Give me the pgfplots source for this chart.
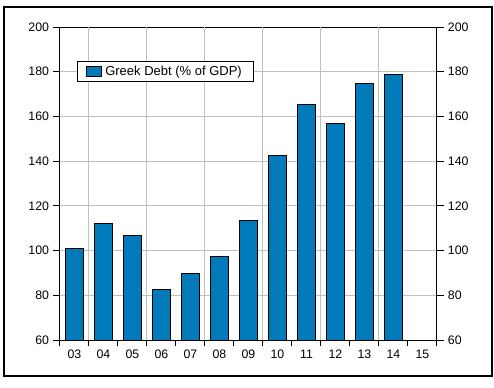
\documentclass[border=0pt]{standalone}
\usepackage{fontspec}
\setmainfont{Liberation Sans}
\usepackage{pgfplots}
\pgfplotsset{compat=1.18}
\definecolor{barblue}{RGB}{0,122,184}
\definecolor{gridgray}{RGB}{192,192,192}
\begin{document}
\begin{tikzpicture}
\path (0pt,0pt) rectangle (370.5pt,290.25pt);
\draw[line width=1.2pt] (3pt,8.25pt) rectangle (369pt,285pt);
\begin{axis}[
  at={(45pt,35.25pt)}, anchor=south west, scale only axis,
  width=282.75pt, height=234.75pt,
  xmin=-0.5, xmax=12.5, ymin=60, ymax=200,
  ytick={60,80,...,200},
  xtick={0,...,12},
  xticklabels={03,04,05,06,07,08,09,10,11,12,13,14,15},
  major x tick style={draw=none},
  minor xtick={-0.5,0.5,...,12.5},
  minor tick length=4.5pt,
  major tick length=5pt,
  xtick pos=left,
  ytick pos=both,
  yticklabel pos=left,
  tick align=outside,
  tick style={black, line width=0.75pt},
  axis line style={black, line width=0.75pt},
  ymajorgrids=true,
  grid style={gridgray, line width=0.75pt},
  extra x ticks={0.5,2.5,...,10.5},
  extra x tick labels={},
  extra x tick style={xmajorgrids=true, major tick length=0pt},
  ticklabel style={font=\fontsize{9.25}{11}\selectfont},
  yticklabel style={inner xsep=3pt},
  xticklabel style={inner ysep=2.5pt},
  /pgf/number format/assume math mode=true,
  ybar, bar width=0.62,
  legend style={at={(axis description cs:0.0451,0.891)}, anchor=north west,
    draw=black, line width=0.75pt, font=\fontsize{9.75}{11}\selectfont,
    inner xsep=6pt, inner ysep=2pt, nodes={inner xsep=3pt, inner ysep=1.3pt},
    cells={anchor=west}},
  legend image code/.code={\draw[#1, line width=0.6pt] (0pt,-3.75pt) rectangle (11.25pt,3.75pt);},
]
\addplot[fill=barblue, draw=black, line width=0.75pt] coordinates {
  (0,101.0) (1,112.2) (2,106.8) (3,82.7) (4,89.8) (5,97.4)
  (6,113.5) (7,142.6) (8,165.4) (9,156.9) (10,174.8) (11,178.7)
};
\addlegendentry{Greek Debt (\% of GDP)}
\end{axis}
\begin{axis}[
  at={(45pt,35.25pt)}, anchor=south west, scale only axis,
  width=282.75pt, height=234.75pt,
  xmin=-0.5, xmax=12.5, ymin=60, ymax=200,
  ytick={60,80,...,200},
  hide x axis,
  axis y line*=right,
  y axis line style={draw=none},
  major tick length=0pt,
  yticklabel pos=right,
  ticklabel style={font=\fontsize{9.25}{11}\selectfont},
  yticklabel style={inner xsep=3pt, xshift=5pt},
  /pgf/number format/assume math mode=true,
]
\addplot[draw=none] coordinates {(0,60)};
\end{axis}
\end{tikzpicture}
\end{document}
